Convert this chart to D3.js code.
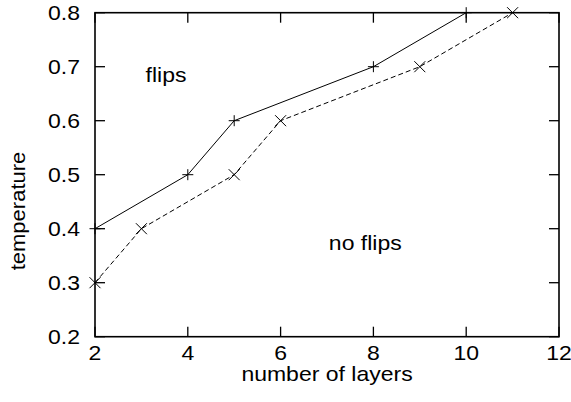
<!DOCTYPE html>
<html>
<head>
<meta charset="utf-8">
<script src="https://cdn.jsdelivr.net/npm/d3@7/dist/d3.min.js"></script>
<style>
  html, body { margin: 0; padding: 0; background: #fff; }
  svg { display: block; }
  text { font-family: "Liberation Sans", Arial, Helvetica, sans-serif; fill: #000; }
</style>
</head>
<body>
<svg id="chart" width="571" height="402"></svg>
<script>
// Critical temperature vs. number of layers
const layersFlips = [2, 4, 5, 8, 10];
const tempFlips = [0.4, 0.5, 0.6, 0.7, 0.8];
const layersNoFlips = [2, 3, 5, 6, 9, 11];
const tempNoFlips = [0.3, 0.4, 0.5, 0.6, 0.7, 0.8];
const xTicks = [2, 4, 6, 8, 10, 12];
const yTicks = [0.2, 0.3, 0.4, 0.5, 0.6, 0.7, 0.8];
const xTitle = "number of layers";
const yTitle = "temperature";
const regionLabels = [
  { text: "flips", x: 3.09, y: 0.671 },
  { text: "no flips", x: 7.04, y: 0.361 }
];

const svg = d3.select("#chart");
const plotL = 95, plotR = 559, plotT = 12.7, plotB = 336.7;
const fontSize = 20, stretch = 1.15;

const x = d3.scaleLinear().domain([2, 12]).range([plotL, plotR]);
const y = d3.scaleLinear().domain([0.2, 0.8]).range([plotB, plotT]);

// horizontally widened text, positioned by a translate
function label(g, str, tx, ty, anchor) {
  return g.append("text")
    .attr("transform", `translate(${tx},${ty}) scale(${stretch},1)`)
    .attr("text-anchor", anchor || "start")
    .attr("font-size", fontSize)
    .text(str);
}

// inward ticks on all four sides
const tickLen = 10;
const tg = svg.append("g").attr("stroke", "#000").attr("stroke-width", 1.3);
xTicks.forEach(v => {
  tg.append("line").attr("x1", x(v)).attr("x2", x(v)).attr("y1", plotB).attr("y2", plotB - tickLen);
  tg.append("line").attr("x1", x(v)).attr("x2", x(v)).attr("y1", plotT).attr("y2", plotT + tickLen);
});
yTicks.forEach(v => {
  tg.append("line").attr("x1", plotL).attr("x2", plotL + tickLen).attr("y1", y(v)).attr("y2", y(v));
  tg.append("line").attr("x1", plotR).attr("x2", plotR - tickLen).attr("y1", y(v)).attr("y2", y(v));
});

// frame
svg.append("rect")
  .attr("x", plotL).attr("y", plotT)
  .attr("width", plotR - plotL).attr("height", plotB - plotT)
  .attr("fill", "none").attr("stroke", "#000").attr("stroke-width", 1.6);

// tick labels
const lg = svg.append("g");
xTicks.forEach(v => label(lg, String(v), x(v), plotB + 23, "middle"));
yTicks.forEach(v => label(lg, d3.format(".1f")(v), plotL - 15, y(v) + 7, "end"));

// axis titles
label(lg, xTitle, (plotL + plotR) / 2, 381, "middle");
svg.append("text")
  .attr("transform", `translate(25,211) rotate(-90) scale(1.1,1)`)
  .attr("text-anchor", "middle")
  .attr("font-size", fontSize)
  .text(yTitle);

// region labels
regionLabels.forEach(d => label(lg, d.text, x(d.x), y(d.y), "start"));

// series lines
const line = d3.line().x(d => x(d[0])).y(d => y(d[1]));
const flips = layersFlips.map((v, i) => [v, tempFlips[i]]);
const noFlips = layersNoFlips.map((v, i) => [v, tempNoFlips[i]]);

svg.append("path").datum(flips)
  .attr("d", line).attr("fill", "none").attr("stroke", "#000").attr("stroke-width", 1);
svg.append("path").datum(noFlips)
  .attr("d", line).attr("fill", "none").attr("stroke", "#000").attr("stroke-width", 1)
  .attr("stroke-dasharray", "5,3");

// markers
const m = 5.5;
svg.append("g").selectAll("path").data(flips).join("path")
  .attr("d", d => `M${x(d[0]) - m},${y(d[1])}H${x(d[0]) + m}M${x(d[0])},${y(d[1]) - m}V${y(d[1]) + m}`)
  .attr("stroke", "#000").attr("stroke-width", 1);
svg.append("g").selectAll("path").data(noFlips).join("path")
  .attr("d", d => `M${x(d[0]) - m},${y(d[1]) - m}L${x(d[0]) + m},${y(d[1]) + m}M${x(d[0]) - m},${y(d[1]) + m}L${x(d[0]) + m},${y(d[1]) - m}`)
  .attr("stroke", "#000").attr("stroke-width", 1);
</script>
</body>
</html>
